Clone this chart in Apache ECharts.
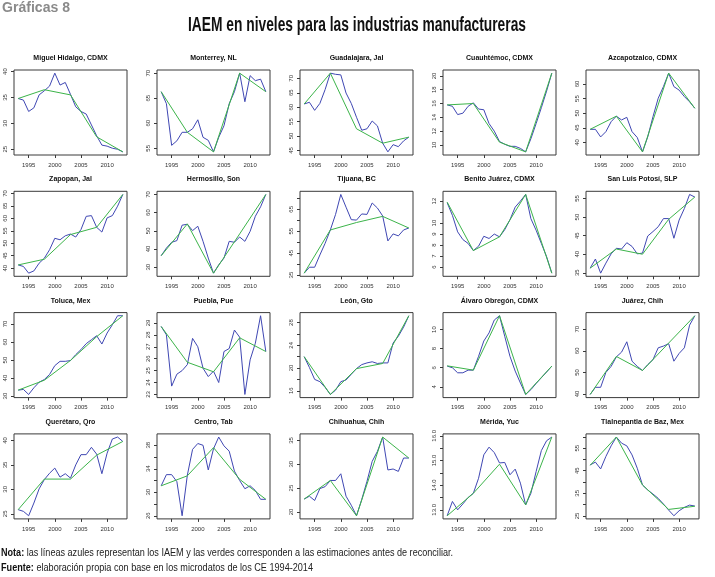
<!DOCTYPE html>
<html><head><meta charset="utf-8">
<script src="https://cdn.jsdelivr.net/npm/echarts@6/dist/echarts.min.js"></script>
<style>html,body{margin:0;padding:0;background:#fff}#c{width:715px;height:577px}</style>
</head><body><div id="c"></div>
<script>
// ---------- DATA ----------
const years = [1993,1994,1995,1996,1997,1998,1999,2000,2001,2002,2003,2004,2005,2006,2007,2008,2009,2010,2011,2012,2013];
const censusYears = [1993,1998,2003,2008,2013];
const xTickValues = [1995,2000,2005,2010];

const iaemMiguelHidalgo = [34.8,34.5,32.3,33.0,35.5,36.3,37.2,39.7,37.4,37.9,35.6,33.2,32.3,31.8,29.7,27.6,25.8,25.6,25.2,25.0,24.5];
const estMiguelHidalgo  = [34.8,36.5,35.5,27.4,24.5];
const iaemMonterrey = [66.3,63.9,55.6,56.5,58.2,58.2,58.9,60.7,57.2,56.6,54.3,57.2,59.5,63.9,66.3,70.0,64.3,69.5,68.5,68.8,66.3];
const estMonterrey  = [66.3,58.2,54.3,70.0,66.3];
const iaemGuadalajara = [61.1,61.7,58.9,61.3,66.1,71.8,71.4,71.2,64.9,61.3,56.5,52.0,52.5,55.2,53.5,47.5,44.5,47.0,46.3,48.3,49.6];
const estGuadalajara  = [61.1,71.8,52.5,47.5,49.6];
const iaemCuauhtemoc = [15.8,15.6,14.4,14.6,15.6,16.1,15.2,15.1,13.1,12.0,10.5,10.1,9.8,9.8,9.5,9.0,10.9,13.1,15.4,17.8,20.4];
const estCuauhtemoc  = [15.8,16.0,10.4,9.0,20.4];
const iaemAzcapotzalco = [44.5,44.5,41.9,43.7,47.1,49.0,47.7,48.6,43.7,41.7,36.8,41.9,48.8,55.1,59.1,63.7,59.1,57.9,55.7,53.9,51.7];
const estAzcapotzalco  = [44.5,49.0,36.8,63.7,51.7];
const iaemZapopan = [41.3,40.7,38.0,38.9,42.0,44.0,47.4,52.0,51.4,53.0,53.7,52.5,55.5,60.8,61.1,56.4,54.5,60.2,61.1,64.9,69.6];
const estZapopan  = [41.3,43.6,53.5,56.4,69.6];
const iaemHermosillo = [36.3,40.5,43.7,44.6,53.1,53.6,50.1,52.5,44.2,35.0,26.7,31.3,35.0,44.2,43.7,46.6,44.2,49.7,58.0,63.2,70.0];
const estHermosillo  = [36.3,53.8,26.7,48.3,70.0];
const iaemTijuana = [35.9,38.6,38.6,44.2,49.5,55.6,62.7,71.8,66.0,60.3,60.1,62.9,62.7,67.9,65.6,62.0,50.6,53.8,52.9,55.6,56.5];
const estTijuana  = [35.9,55.6,59.0,61.8,56.5];
const iaemBenitoJuarez = [11.85,10.7,9.2,8.5,8.15,7.5,7.9,8.8,8.6,9.0,8.75,9.4,10.3,11.45,12.0,12.6,10.4,9.35,8.15,6.95,5.45];
const estBenitoJuarez  = [11.9,7.5,8.75,12.6,5.45];
const iaemSanLuis = [36.25,38.7,34.9,37.6,40.1,41.6,41.4,43.1,42.1,40.1,40.3,44.9,46.1,47.4,49.6,49.6,44.3,49.2,52.3,56.1,55.4];
const estSanLuis  = [36.25,41.4,40.0,49.4,55.4];
const iaemToluca = [33.3,33.7,30.9,34.6,37.7,39.2,42.0,46.9,49.3,49.3,49.7,53.0,55.8,59.1,61.3,63.5,58.9,65.0,69.6,74.6,74.6];
const estToluca  = [33.3,38.8,49.8,63.0,74.6];
const iaemPuebla = [28.7,28.0,23.7,24.7,25.0,25.5,27.7,27.0,25.2,24.5,24.95,24.0,26.6,26.85,28.4,27.8,23.0,25.9,27.3,29.6,26.6];
const estPuebla  = [28.7,25.7,24.9,27.75,26.6];
const iaemLeon = [22.0,20.1,18.0,17.6,16.6,15.35,16.1,17.6,17.9,18.9,19.9,20.6,20.9,21.1,20.8,20.9,20.9,24.4,25.6,27.2,29.2];
const estLeon  = [22.0,15.35,19.9,20.8,29.2];
const iaemAlvaroObregon = [6.17,6.0,5.47,5.47,5.75,5.75,7.2,8.8,9.65,11.0,11.45,9.3,7.2,5.65,4.4,3.2,3.7,4.35,4.95,5.55,6.17];
const estAlvaroObregon  = [6.2,5.75,11.45,3.2,6.17];
const iaemJuarez = [39.8,43.1,43.1,50.0,52.8,57.2,59.4,64.2,55.2,52.8,50.9,53.6,55.9,61.4,62.2,63.3,55.2,58.8,61.4,71.9,76.25];
const estJuarez  = [39.8,57.4,50.9,63.6,76.25];
const iaemQueretaro = [25.85,25.5,24.6,27.2,30.1,32.0,33.3,34.35,32.5,33.2,32.3,35.0,37.1,37.1,38.6,37.2,33.2,37.4,40.3,40.7,39.8];
const estQueretaro  = [25.85,32.1,32.1,37.0,39.8];
const iaemCentro = [31.1,33.0,33.0,31.8,26.0,32.9,37.3,38.3,38.0,33.8,37.4,39.4,37.9,37.0,33.6,32.0,30.6,31.1,30.3,28.8,28.8];
const estCentro  = [31.1,32.8,37.6,32.2,28.8];
const iaemChihuahua = [22.7,23.3,22.4,24.9,25.3,26.6,26.6,28.0,23.3,21.4,19.2,22.6,26.4,30.6,32.7,35.7,28.8,29.0,28.5,31.3,31.3];
const estChihuahua  = [22.7,26.6,19.2,35.7,31.3];
const iaemMerida = [12.76,13.34,13.0,13.24,13.5,13.67,14.28,15.23,15.54,15.32,14.9,14.92,14.42,14.65,14.08,13.2,13.67,14.55,15.4,15.8,15.95];
const estMerida  = [12.76,13.67,14.85,13.2,15.95];
const iaemTlalnepantla = [47.6,48.8,45.8,51.3,56.0,59.9,57.2,56.0,52.0,46.1,38.7,36.5,34.7,32.8,30.3,27.6,25.1,27.3,28.8,29.8,29.4];
const estTlalnepantla  = [47.4,59.9,38.7,27.9,29.3];

const panelTitles = ['Miguel Hidalgo, CDMX','Monterrey, NL','Guadalajara, Jal','Cuauhtémoc, CDMX','Azcapotzalco, CDMX',
  'Zapopan, Jal','Hermosillo, Son','Tijuana, BC','Benito Juárez, CDMX','San Luis Potosí, SLP',
  'Toluca, Mex','Puebla, Pue','León, Gto','Álvaro Obregón, CDMX','Juárez, Chih',
  'Querétaro, Qro','Centro, Tab','Chihuahua, Chih','Mérida, Yuc','Tlalnepantla de Baz, Mex'];

// y tick positions and labelled ticks
const yTicksMiguelHidalgo = [25,30,35,40];
const yTicksMonterrey = [55,60,65,70];
const yTicksGuadalajara = [45,50,55,60,65,70];
const yTicksCuauhtemoc = [10,12,14,16,18,20];
const yTicksAzcapotzalco = [40,45,50,55,60];
const yTicksZapopan = [40,45,50,55,60,65,70];
const yTicksHermosillo = [30,40,50,60,70];
const yTicksTijuana = [35,40,45,50,55,60,65,70];
const yLabelsTijuana = [35,45,55,65];
const yTicksBenitoJuarez = [6,7,8,9,10,11,12];
const yLabelsBenitoJuarez = [6,7,8,9,10,12];
const yTicksSanLuis = [35,40,45,50,55];
const yTicksToluca = [30,40,50,60,70];
const yTicksPuebla = [23,24,25,26,27,28,29];
const yTicksLeon = [16,18,20,22,24,26,28];
const yLabelsLeon = [16,20,24,28];
const yTicksAlvaroObregon = [4,6,8,10];
const yTicksJuarez = [40,50,60,70];
const yTicksQueretaro = [25,30,35,40];
const yTicksCentro = [26,28,30,32,34,36,38];
const yLabelsCentro = [26,30,34,38];
const yTicksChihuahua = [20,25,30,35];
const yTicksMerida = [13,13.5,14,14.5,15,15.5,16];
const yLabelsMerida = [13,14,15,16];
const yTicksTlalnepantla = [25,30,35,40,45,50,55,60];
const yLabelsTlalnepantla = [25,35,45,55];

const panels = [
  {iaem: iaemMiguelHidalgo, est: estMiguelHidalgo, ticks: yTicksMiguelHidalgo},
  {iaem: iaemMonterrey, est: estMonterrey, ticks: yTicksMonterrey},
  {iaem: iaemGuadalajara, est: estGuadalajara, ticks: yTicksGuadalajara},
  {iaem: iaemCuauhtemoc, est: estCuauhtemoc, ticks: yTicksCuauhtemoc},
  {iaem: iaemAzcapotzalco, est: estAzcapotzalco, ticks: yTicksAzcapotzalco},
  {iaem: iaemZapopan, est: estZapopan, ticks: yTicksZapopan},
  {iaem: iaemHermosillo, est: estHermosillo, ticks: yTicksHermosillo},
  {iaem: iaemTijuana, est: estTijuana, ticks: yTicksTijuana, labels: yLabelsTijuana},
  {iaem: iaemBenitoJuarez, est: estBenitoJuarez, ticks: yTicksBenitoJuarez, labels: yLabelsBenitoJuarez},
  {iaem: iaemSanLuis, est: estSanLuis, ticks: yTicksSanLuis},
  {iaem: iaemToluca, est: estToluca, ticks: yTicksToluca},
  {iaem: iaemPuebla, est: estPuebla, ticks: yTicksPuebla},
  {iaem: iaemLeon, est: estLeon, ticks: yTicksLeon, labels: yLabelsLeon},
  {iaem: iaemAlvaroObregon, est: estAlvaroObregon, ticks: yTicksAlvaroObregon},
  {iaem: iaemJuarez, est: estJuarez, ticks: yTicksJuarez},
  {iaem: iaemQueretaro, est: estQueretaro, ticks: yTicksQueretaro},
  {iaem: iaemCentro, est: estCentro, ticks: yTicksCentro, labels: yLabelsCentro},
  {iaem: iaemChihuahua, est: estChihuahua, ticks: yTicksChihuahua},
  {iaem: iaemMerida, est: estMerida, ticks: yTicksMerida, labels: yLabelsMerida, dec: 1},
  {iaem: iaemTlalnepantla, est: estTlalnepantla, ticks: yTicksTlalnepantla, labels: yLabelsTlalnepantla}
];

const pageTitle = 'IAEM en niveles para las industrias manufactureras';
const figureLabel = 'Gráficas 8';
const noteLabel = 'Nota:';
const noteText = ' las líneas azules representan los IAEM y las verdes corresponden a las estimaciones antes de reconciliar.';
const sourceLabel = 'Fuente:';
const sourceText = ' elaboración propia con base en los microdatos de los CE 1994-2014';

// ---------- LAYOUT / STYLE ----------
const FONT = '"Liberation Sans", Arial, sans-serif';
const BLUE = '#3f47b3';
const GREEN = '#3cb44a';
const AXC = '#3a3a3a';
const GL = 14, GSX = 143, GW = 113, GT = 70, GSY = 121.3, GH = 85;

const mctx = document.createElement('canvas').getContext('2d');
function measure(font, text) { mctx.font = font; return mctx.measureText(text).width; }

const grid = [], xAxis = [], yAxis = [], series = [], graphic = [];
panels.forEach((p, i) => {
  const c = i % 5, r = Math.floor(i / 5);
  const left = GL + GSX * c, top = GT + GSY * r;
  grid.push({left: left, top: top, width: GW, height: GH, show: true, borderColor: AXC, borderWidth: 1, backgroundColor: 'transparent', containLabel: false});
  const all = p.iaem.concat(p.est);
  const lo = Math.min.apply(null, all), hi = Math.max.apply(null, all);
  const pad = (hi - lo) * 0.04;
  xAxis.push({type: 'value', gridIndex: i, min: 1992.2, max: 2013.8,
    axisLine: {show: false}, splitLine: {show: false},
    axisTick: {show: true, customValues: xTickValues, length: 3, lineStyle: {color: AXC, width: 1}},
    axisLabel: {show: true, customValues: xTickValues, fontSize: 6, fontFamily: FONT, color: '#333', margin: 7,
      formatter: v => String(Math.round(v))}
  });
  const labs = p.labels || p.ticks;
  yAxis.push({type: 'value', gridIndex: i, min: lo - pad, max: hi + pad,
    axisLine: {show: false}, splitLine: {show: false},
    axisTick: {show: true, customValues: p.ticks, length: 3, lineStyle: {color: AXC, width: 1}},
    axisLabel: {show: true, customValues: labs, rotate: 90, fontSize: 6, fontFamily: FONT, color: '#333', margin: 6,
      formatter: v => p.dec ? Number(v).toFixed(p.dec) : String(v)}
  });
  series.push({type: 'line', xAxisIndex: i, yAxisIndex: i, data: years.map((y, k) => [y, p.iaem[k]]),
    showSymbol: false, symbol: 'none', lineStyle: {color: BLUE, width: 1}, silent: true, z: 2});
  series.push({type: 'line', xAxisIndex: i, yAxisIndex: i, data: censusYears.map((y, k) => [y, p.est[k]]),
    showSymbol: false, symbol: 'none', lineStyle: {color: GREEN, width: 1}, silent: true, z: 3});
  graphic.push({type: 'text', x: left + GW / 2, y: top - 12,
    style: {text: panelTitles[i], fontSize: 7, fontWeight: 'bold', fontFamily: FONT, fill: '#111', textAlign: 'center', textVerticalAlign: 'middle'}});
});

// page texts
const titleFont = 'bold 20px ' + FONT;
graphic.push({type: 'text', x: 357, y: 25, scaleX: 338 / measure(titleFont, pageTitle),
  style: {text: pageTitle, font: titleFont, fill: '#111', textAlign: 'center', textVerticalAlign: 'middle'}});
const figFont = 'bold 14px ' + FONT;
graphic.push({type: 'text', x: 2, y: 8, scaleX: 68 / measure(figFont, figureLabel),
  style: {text: figureLabel, font: figFont, fill: '#8a8a8a', textAlign: 'left', textVerticalAlign: 'middle'}});
const nb = 'bold 11px ' + FONT, nr = '11px ' + FONT;
const noteW = measure(nb, noteLabel) + measure(nr, noteText);
graphic.push({type: 'text', x: 1, y: 553, scaleX: 452 / noteW,
  style: {text: '{b|' + noteLabel + '}{r|' + noteText + '}', textAlign: 'left', textVerticalAlign: 'middle',
    rich: {b: {fontSize: 11, fontWeight: 'bold', fontFamily: FONT, fill: '#111'}, r: {fontSize: 11, fontFamily: FONT, fill: '#222'}}}});
const srcW = measure(nb, sourceLabel) + measure(nr, sourceText);
graphic.push({type: 'text', x: 1, y: 568, scaleX: 312 / srcW,
  style: {text: '{b|' + sourceLabel + '}{r|' + sourceText + '}', textAlign: 'left', textVerticalAlign: 'middle',
    rich: {b: {fontSize: 11, fontWeight: 'bold', fontFamily: FONT, fill: '#111'}, r: {fontSize: 11, fontFamily: FONT, fill: '#222'}}}});

const chart = echarts.init(document.getElementById('c'), null, {renderer: 'canvas'});
chart.setOption({animation: false, backgroundColor: '#fff', grid, xAxis, yAxis, series, graphic});
</script></body></html>
